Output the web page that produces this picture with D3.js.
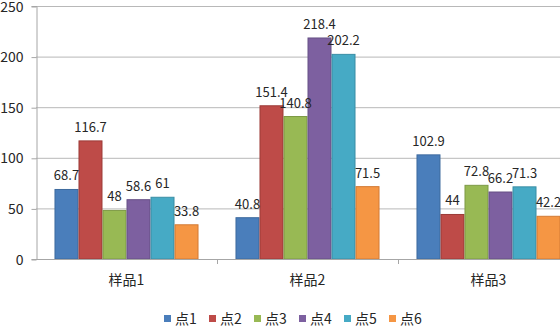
<!DOCTYPE html>
<html><head><meta charset="utf-8">
<script src="https://cdn.jsdelivr.net/npm/d3@7"></script>
<style>body{margin:0;background:#fff;overflow:hidden}svg{display:block}text{font-family:"Noto Sans CJK SC","Noto Sans",sans-serif;fill:#262626}</style>
</head><body><svg id="c" width="560" height="327"></svg>
<script>
const categories = ["样品1", "样品2", "样品3"];
const seriesNames = ["点1", "点2", "点3", "点4", "点5", "点6"];
const values1 = [68.7, 40.8, 102.9];
const values2 = [116.7, 151.4, 44];
const values3 = [48, 140.8, 72.8];
const values4 = [58.6, 218.4, 66.2];
const values5 = [61, 202.2, 71.3];
const values6 = [33.8, 71.5, 42.2];
const yTicks = [0, 50, 100, 150, 200, 250];
const colors = ["#4A7EBB", "#BE4B48", "#98B954", "#7D60A0", "#46AAC5", "#F59644"];
const strokes = ["#3d6a9e", "#9c3b38", "#7d9a45", "#665085", "#3a8ea5", "#d27a34"];

const series = [values1, values2, values3, values4, values5, values6];
const svg = d3.select("#c");
const L = 36, R = 579, T = 6, B = 259;

const x = d3.scaleBand().domain(categories).range([L, R]).padding(0);
const xi = d3.scaleBand().domain(seriesNames).range([0, x.bandwidth()]).paddingInner(0).paddingOuter(0.77);
const y = d3.scaleLinear().domain([0, 250]).range([B, T]);

// gridlines
svg.append("g").selectAll("line").data(yTicks.filter(d => d > 0)).join("line")
  .attr("x1", L).attr("x2", R).attr("y1", d => y(d) + 0.5).attr("y2", d => y(d) + 0.5)
  .attr("stroke", "#b8b8b8").attr("stroke-width", 1);

// y axis
const ya = svg.append("g").attr("transform", `translate(${L + 0.5},0)`)
  .call(d3.axisLeft(y).tickValues(yTicks).tickSize(5).tickPadding(8));
ya.select(".domain").attr("stroke", "#a6a6a6");
ya.selectAll(".tick line").attr("stroke", "#a6a6a6").attr("transform", "translate(0,0.5)");
ya.selectAll(".tick text").style("font-size", "14px").attr("fill", "#262626")
  .style("font-family", '"Noto Sans CJK SC","Noto Sans",sans-serif').attr("dy", "0.36em");

// bars
const g = svg.append("g");
seriesNames.forEach((s, si) => {
  const data = categories.map((c, ci) => ({c, v: series[si][ci]}));
  g.append("g").selectAll("rect").data(data).join("rect")
    .attr("x", d => x(d.c) + xi(s) + 0.5)
    .attr("y", d => y(d.v))
    .attr("width", xi.bandwidth() - 1)
    .attr("height", d => y(0) - y(d.v))
    .attr("fill", colors[si]).attr("stroke", strokes[si]).attr("stroke-width", 1);
});

// x axis
svg.append("line").attr("x1", L).attr("x2", R).attr("y1", B + 0.5).attr("y2", B + 0.5).attr("stroke", "#a6a6a6");
svg.append("g").selectAll("line").data(categories.slice(1)).join("line")
  .attr("x1", d => Math.round(x(d)) + 0.5).attr("x2", d => Math.round(x(d)) + 0.5)
  .attr("y1", B).attr("y2", B + 5).attr("stroke", "#a6a6a6");
svg.append("g").selectAll("text").data(categories).join("text")
  .attr("x", d => x(d) + x.bandwidth() / 2).attr("y", 285)
  .attr("text-anchor", "middle").style("font-size", "14px").text(d => d);

// value labels
seriesNames.forEach((s, si) => {
  const data = categories.map((c, ci) => ({c, v: series[si][ci]}));
  svg.append("g").selectAll("text").data(data).join("text")
    .attr("x", d => x(d.c) + xi(s) + xi.bandwidth() / 2)
    .attr("y", d => y(d.v) - 9)
    .attr("text-anchor", "middle").style("font-size", "13px")
    .text(d => d.v);
});

// legend
const lg = svg.append("g");
const lx = d3.scalePoint().domain(seriesNames).range([164, 389]);
seriesNames.forEach((s, si) => {
  lg.append("rect").attr("x", lx(s)).attr("y", 315).attr("width", 7).attr("height", 7).attr("fill", colors[si]);
  lg.append("text").attr("x", lx(s) + 11).attr("y", 323.5).style("font-size", "14px").text(s);
});
</script></body></html>
